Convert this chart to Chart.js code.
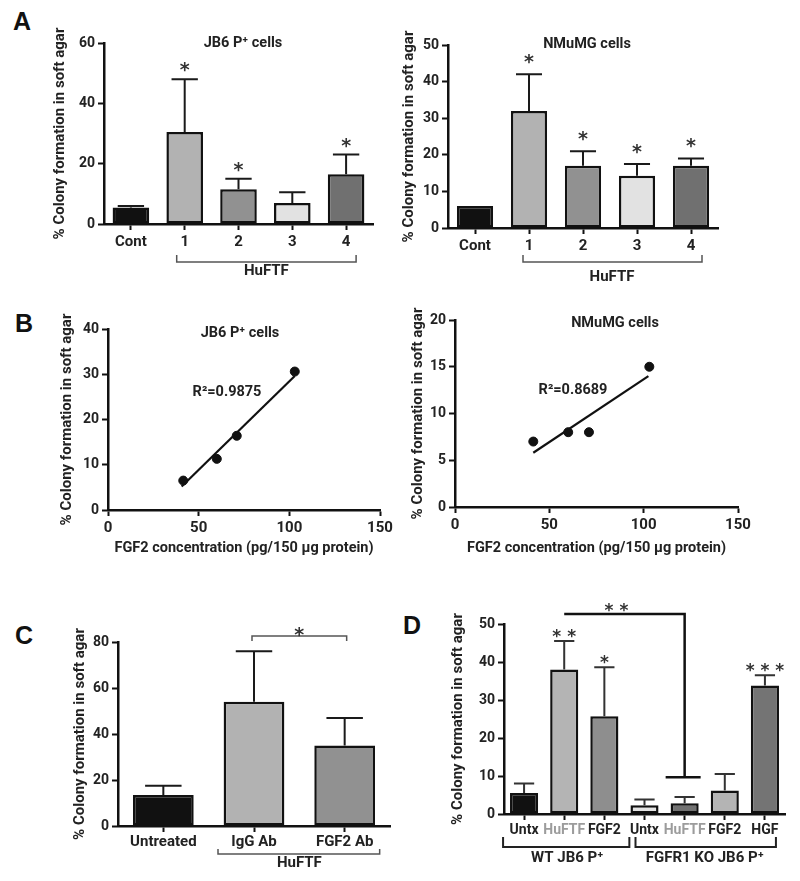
<!DOCTYPE html>
<html>
<head>
<meta charset="utf-8">
<script src="https://cdn.jsdelivr.net/npm/chart.js@4.4.1/dist/chart.umd.min.js"></script>
<style>
  body { margin: 0; background: #fff; width: 800px; height: 881px; position: relative; overflow: hidden; }
  canvas { position: absolute; }
  .letter { position: absolute; font: bold 25px "Liberation Sans", Arial, sans-serif; color: #111; line-height: 1; }
</style>
</head>
<body>
<div class="letter" style="left:13px;top:9px">A</div>
<div class="letter" style="left:15px;top:311px">B</div>
<div class="letter" style="left:15px;top:623px">C</div>
<div class="letter" style="left:403px;top:613px">D</div>

<canvas id="a1" width="400" height="290" style="left:0;top:0"></canvas>
<canvas id="a2" width="400" height="290" style="left:400px;top:0"></canvas>
<canvas id="b1" width="400" height="280" style="left:0;top:290px"></canvas>
<canvas id="b2" width="400" height="280" style="left:400px;top:290px"></canvas>
<canvas id="c1" width="400" height="311" style="left:0;top:570px"></canvas>
<canvas id="d1" width="400" height="311" style="left:400px;top:570px"></canvas>

<script>
// ---- data ----
const aCats = ['Cont', '1', '2', '3', '4'];
const aColors = ['#111111', '#b2b2b2', '#919191', '#e2e2e2', '#707070'];
const aJb6Values = [5.5, 30.5, 11.5, 7, 16.5];
const aJb6Errors = [6, 48, 15, 10.5, 23];
const aJb6Stars = ['', '*', '*', '', '*'];
const aNmuValues = [6, 32, 17, 14.3, 17];
const aNmuErrors = [6, 42, 21, 17.5, 19];
const aNmuStars = ['', '*', '*', '*', '*'];

const bFgf2 = [41.5, 60, 71, 103];
const bJb6 = [6.5, 11.3, 16.4, 30.6];
const bJb6FitX = [40.6, 103];
const bJb6FitY = [5.2, 29.6];
const bNmu = [7, 8, 8, 15];
const bNmuFitX = [41.5, 102.5];
const bNmuFitY = [5.8, 14.0];

const cCats = ['Untreated', 'IgG Ab', 'FGF2 Ab'];
const cColors = ['#111111', '#b2b2b2', '#919191'];
const cValues = [13.5, 54, 35];
const cErrors = [17.5, 76, 47];

const dCats = ['Untx', 'HuFTF', 'FGF2', 'Untx', 'HuFTF', 'FGF2', 'HGF'];
const dColors = ['#111111', '#b4b4b4', '#8e8e8e', '#e4e4e4', '#727272', '#b4b4b4', '#747474'];
const dLabelColors = ['#222', '#9c9c9c', '#222', '#222', '#9c9c9c', '#222', '#222'];
const dValues = [5.5, 38, 25.7, 2.3, 2.8, 6.2, 33.8];
const dErrors = [8, 45.5, 38.6, 3.8, 4.5, 10.5, 36.5];
const dStars = ['', '* *', '*', '', '', '', '* * *'];

const yTitle = '% Colony formation in soft agar';
const FONT = 'Roboto, "Liberation Sans", Arial, sans-serif';

// ---- helpers ----
function fnt(size) { return { family: FONT, size: size, weight: 'bold' }; }

function axis(extra) {
  return Object.assign({
    border: { display: true, color: '#111', width: 2.5 },
    grid: { display: true, drawOnChartArea: false, drawTicks: true, tickLength: 6, tickWidth: 2, tickColor: '#111', offset: false },
  }, extra);
}

function text(ctx, str, x, y, size, color) {
  ctx.save();
  ctx.font = 'bold ' + size + 'px ' + FONT;
  ctx.fillStyle = color || '#222';
  ctx.textAlign = 'center';
  ctx.textBaseline = 'middle';
  ctx.fillText(str, x, y);
  ctx.restore();
}

function star(ctx, str, x, cy, size) {
  size = size || 19;
  ctx.save();
  ctx.font = 'bold ' + size + 'px "DejaVu Sans", sans-serif';
  ctx.fillStyle = '#333';
  ctx.textAlign = 'center';
  ctx.textBaseline = 'alphabetic';
  ctx.fillText(str, x, cy + size * 0.68);
  ctx.restore();
}

function bracket(ctx, x0, x1, y, h, color, lw) {
  ctx.save();
  ctx.strokeStyle = color;
  ctx.lineWidth = lw;
  ctx.beginPath();
  ctx.moveTo(x0, y + h);
  ctx.lineTo(x0, y);
  ctx.lineTo(x1, y);
  ctx.lineTo(x1, y + h);
  ctx.stroke();
  ctx.restore();
}

function errorBars(chart, values, errors, capFrac, color) {
  const ctx = chart.ctx, ys = chart.scales.y;
  const meta = chart.getDatasetMeta(0);
  ctx.save();
  ctx.strokeStyle = color || '#1a1a1a';
  ctx.lineWidth = 2;
  meta.data.forEach(function (bar, i) {
    if (errors[i] <= values[i]) return;
    const top = ys.getPixelForValue(errors[i]);
    const half = bar.width * capFrac;
    ctx.beginPath();
    ctx.moveTo(bar.x, bar.y);
    ctx.lineTo(bar.x, top);
    ctx.moveTo(bar.x - half, top);
    ctx.lineTo(bar.x + half, top);
    ctx.stroke();
  });
  ctx.restore();
}

function barChart(id, o) {
  return new Chart(document.getElementById(id), {
    type: 'bar',
    data: {
      labels: o.cats,
      datasets: [{
        data: o.values,
        backgroundColor: o.colors,
        borderColor: '#111',
        borderWidth: 2.5,
        borderSkipped: false,
        barPercentage: o.barPct,
        categoryPercentage: 1
      }]
    },
    options: {
      responsive: false,
      animation: false,
      events: [],
      layout: { padding: o.padding },
      plugins: { legend: { display: false }, tooltip: { enabled: false } },
      scales: {
        x: axis({
          ticks: { font: fnt(o.xFont || 15), color: o.xColor || '#222', padding: o.xPad, maxRotation: 0, autoSkip: false },
          afterFit: function (s) { s.height = o.xh; }
        }),
        y: axis({
          min: 0, max: o.max,
          ticks: { stepSize: o.step, font: fnt(14), color: '#222', padding: 3 },
          title: { display: true, text: yTitle, font: fnt(15), color: '#222', padding: { top: o.titlePad, bottom: 0 } },
          afterFit: function (s) { s.width = o.yw; }
        })
      }
    },
    plugins: [{ id: 'decor', afterDraw: o.decor }]
  });
}

function scatterChart(id, o) {
  return new Chart(document.getElementById(id), {
    type: 'scatter',
    data: {
      datasets: [{
        data: bFgf2.map(function (x, i) { return { x: x, y: o.ys[i] }; }),
        pointRadius: 4.5,
        backgroundColor: '#111',
        borderColor: '#111'
      }, {
        type: 'line',
        data: o.fitX.map(function (x, i) { return { x: x, y: o.fitY[i] }; }),
        borderColor: '#111',
        borderWidth: 2.2,
        pointRadius: 0,
        fill: false
      }]
    },
    options: {
      responsive: false,
      animation: false,
      events: [],
      layout: { padding: o.padding },
      plugins: { legend: { display: false }, tooltip: { enabled: false } },
      scales: {
        x: axis({
          type: 'linear', min: 0, max: 150,
          ticks: { stepSize: 50, font: fnt(15), color: '#222', padding: 3 },
          title: { display: true, text: 'FGF2 concentration (pg/150 µg protein)', font: fnt(14.5), color: '#222', padding: { top: 0, bottom: o.xTitlePad } },
          afterFit: function (s) { s.height = o.xh; }
        }),
        y: axis({
          min: 0, max: o.max,
          ticks: { stepSize: o.step, font: fnt(14), color: '#222', padding: 3 },
          title: { display: true, text: yTitle, font: fnt(15), color: '#222', padding: { top: o.titlePad, bottom: 0 } },
          afterFit: function (s) { s.width = o.yw; }
        })
      }
    },
    plugins: [{ id: 'decor', afterDraw: o.decor }]
  });
}

function catX(chart, i) { return chart.scales.x.getPixelForValue(i); }

// ---- panel A, JB6 ----
barChart('a1', {
  cats: aCats, values: aJb6Values, colors: aColors, barPct: 0.68,
  max: 60, step: 20, yw: 104, xh: 30, xPad: 3, titlePad: 51,
  padding: { left: 0, top: 43, right: 27, bottom: 36 },
  decor: function (chart) {
    const ctx = chart.ctx, ys = chart.scales.y, b = chart.chartArea.bottom;
    errorBars(chart, aJb6Values, aJb6Errors, 0.36);
    aJb6Stars.forEach(function (s, i) { if (s) star(ctx, s, catX(chart, i), ys.getPixelForValue(aJb6Errors[i]) - 16); });
    bracket(ctx, catX(chart, 1) - 8, catX(chart, 4) + 10, b + 38, -7, '#555', 1.5);
    text(ctx, 'HuFTF', (catX(chart, 1) + catX(chart, 4)) / 2 + 1, b + 47, 15);
    text(ctx, 'JB6 P\u207A cells', 243, 43, 14.5);
  }
});

// ---- panel A, NMuMG ----
barChart('a2', {
  cats: aCats, values: aNmuValues, colors: aColors, barPct: 0.67,
  max: 50, step: 10, yw: 48, xh: 30, xPad: 3, titlePad: 0,
  padding: { left: 0, top: 45, right: 82, bottom: 32 },
  decor: function (chart) {
    const ctx = chart.ctx, ys = chart.scales.y, b = chart.chartArea.bottom;
    errorBars(chart, aNmuValues, aNmuErrors, 0.36);
    aNmuStars.forEach(function (s, i) { if (s) star(ctx, s, catX(chart, i), ys.getPixelForValue(aNmuErrors[i]) - 19); });
    bracket(ctx, catX(chart, 1) - 6, catX(chart, 4) + 11, b + 34, -7, '#555', 1.5);
    text(ctx, 'HuFTF', (catX(chart, 1) + catX(chart, 4)) / 2 + 2, b + 49, 15);
    text(ctx, 'NMuMG cells', 187, 44, 14.5);
  }
});

// ---- panel B ----
scatterChart('b1', {
  ys: bJb6, fitX: bJb6FitX, fitY: bJb6FitY, max: 40, step: 10,
  yw: 108, xh: 55, titlePad: 58, xTitlePad: 8,
  padding: { left: 0, top: 39, right: 20, bottom: 5 },
  decor: function (chart) {
    text(chart.ctx, 'JB6 P\u207A cells', 240, 43, 14.5);
    text(chart.ctx, 'R\u00B2=0.9875', 227, 102, 14.5);
  }
});

scatterChart('b2', {
  ys: bNmu, fitX: bNmuFitX, fitY: bNmuFitY, max: 20, step: 5,
  yw: 55, xh: 55, titlePad: 9, xTitlePad: 5,
  padding: { left: 0, top: 30, right: 62, bottom: 8 },
  decor: function (chart) {
    text(chart.ctx, 'NMuMG cells', 215, 33, 14.5);
    text(chart.ctx, 'R\u00B2=0.8689', 173, 100, 14.5);
  }
});

// ---- panel C ----
barChart('c1', {
  cats: cCats, values: cValues, colors: cColors, barPct: 0.67,
  max: 80, step: 20, yw: 118, xh: 40, xPad: 1, titlePad: 71,
  padding: { left: 0, top: 72, right: 10, bottom: 15 },
  decor: function (chart) {
    const ctx = chart.ctx, b = chart.chartArea.bottom, t = chart.chartArea.top;
    errorBars(chart, cValues, cErrors, 0.3);
    bracket(ctx, catX(chart, 1) - 2, catX(chart, 2) + 2, t - 6, 5, '#555', 1.5);
    star(ctx, '*', (catX(chart, 1) + catX(chart, 2)) / 2, t - 14);
    bracket(ctx, catX(chart, 1) - 36, catX(chart, 2) + 35, b + 28, -5, '#555', 1.5);
    text(ctx, 'HuFTF', (catX(chart, 1) + catX(chart, 2)) / 2, b + 37, 15);
  }
});

// ---- panel D ----
barChart('d1', {
  cats: dCats, values: dValues, colors: dColors, barPct: 0.7,
  max: 50, step: 10, yw: 104, xh: 40, xPad: 2, titlePad: 49, xFont: 14,
  xColor: function (c) { return dLabelColors[c.index]; },
  padding: { left: 0, top: 54, right: 15, bottom: 27 },
  decor: function (chart) {
    const ctx = chart.ctx, ys = chart.scales.y, b = chart.chartArea.bottom;
    errorBars(chart, dValues, dErrors, 0.36, '#333');
    dStars.forEach(function (s, i) { if (s) star(ctx, s, catX(chart, i), ys.getPixelForValue(dErrors[i]) - 11, 17); });
    // comparison line between WT HuFTF and KO HuFTF
    const x1 = catX(chart, 1), x4 = catX(chart, 4);
    const yTop = ys.getPixelForValue(52.6), yLow = ys.getPixelForValue(9.7);
    ctx.save();
    ctx.strokeStyle = '#111';
    ctx.lineWidth = 2.5;
    ctx.beginPath();
    ctx.moveTo(x1, yTop); ctx.lineTo(x4, yTop); ctx.lineTo(x4, yLow);
    ctx.moveTo(x4 - 19, yLow); ctx.lineTo(x4 + 16, yLow);
    ctx.stroke();
    ctx.restore();
    star(ctx, '* *', (x1 + x4) / 2 - 8, yTop - 10, 17);
    bracket(ctx, catX(chart, 0) - 21, catX(chart, 2) + 25, b + 33, -10, '#222', 2);
    bracket(ctx, catX(chart, 3) - 9, catX(chart, 6) + 11, b + 33, -10, '#222', 2);
    text(ctx, 'WT JB6 P\u207A', (catX(chart, 0) + catX(chart, 2)) / 2 + 3, b + 44, 15);
    text(ctx, 'FGFR1 KO JB6 P\u207A', (catX(chart, 3) + catX(chart, 6)) / 2, b + 44, 15);
  }
});
</script>
</body>
</html>
